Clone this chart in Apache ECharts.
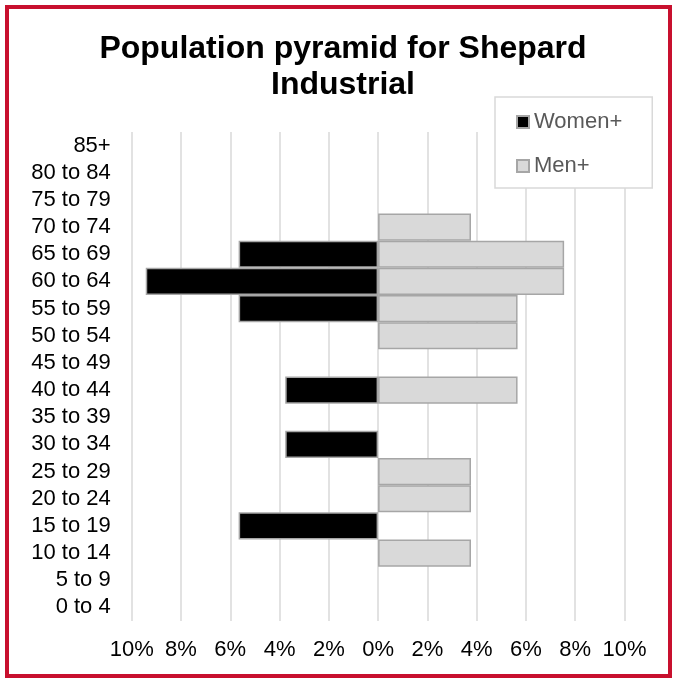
<!DOCTYPE html>
<html>
<head>
<meta charset="utf-8">
<script src="https://cdn.jsdelivr.net/npm/echarts@6/dist/echarts.min.js"></script>
<style>
html,body{margin:0;padding:0;background:#fff;}
#chart{width:673px;height:679px;}
</style>
</head>
<body>
<div id="chart"></div>
<script>
// Age groups, top to bottom
const categories = ["85+", "80 to 84", "75 to 79", "70 to 74", "65 to 69", "60 to 64", "55 to 59", "50 to 54", "45 to 49", "40 to 44", "35 to 39", "30 to 34", "25 to 29", "20 to 24", "15 to 19", "10 to 14", "5 to 9", "0 to 4"];
// Percent of population
const women = [0, 0, 0, 0, 5.66, 9.43, 5.66, 0, 0, 3.77, 0, 3.77, 0, 0, 5.66, 0, 0, 0];
const men   = [0, 0, 0, 3.77, 7.55, 7.55, 5.66, 5.66, 0, 5.66, 0, 0, 3.77, 3.77, 0, 3.77, 0, 0];
const xTicks = [-10, -8, -6, -4, -2, 0, 2, 4, 6, 8, 10];
const titleText = "Population pyramid for Shepard\nIndustrial";

const chart = echarts.init(document.getElementById('chart'));
const font = '"Liberation Sans", Arial, sans-serif';

chart.setOption({
  animation: false,
  backgroundColor: '#ffffff',
  textStyle: { fontFamily: font },
  graphic: [
    {
      type: 'rect', silent: true, z: 100,
      shape: { x: 7, y: 7, width: 663, height: 669 },
      style: { fill: 'none', stroke: '#c8102e', lineWidth: 4 }
    },
    {
      type: 'text', silent: true,
      x: 343, y: 31,
      style: {
        text: titleText, fontFamily: font, fontSize: 32, fontWeight: 'bold',
        fill: '#000', align: 'center', verticalAlign: 'top', lineHeight: 36
      }
    }
  ],
  legend: {
    orient: 'vertical',
    left: 495, top: 97,
    padding: [14, 30, 11, 21],
    itemGap: 22,
    itemWidth: 12, itemHeight: 12,
    borderColor: '#d9d9d9', borderWidth: 1.5,
    backgroundColor: '#fff',
    textStyle: { fontSize: 22, color: '#595959', fontFamily: font },
    data: [{ name: 'Women+', icon: 'rect' }, { name: 'Men+', icon: 'rect' }]
  },
  grid: { left: 131.7, right: 48.5, top: 132, bottom: 58 },
  xAxis: {
    type: 'value', min: xTicks[0], max: xTicks[xTicks.length - 1], interval: 2,
    axisLine: { show: false }, axisTick: { show: false },
    splitLine: { show: true, lineStyle: { color: '#d9d9d9', width: 1.5 } },
    axisLabel: {
      fontSize: 22, color: '#000', margin: 18, fontFamily: font,
      formatter: v => Math.abs(v) + '%'
    }
  },
  yAxis: {
    type: 'category', data: categories, inverse: true,
    axisLine: { show: false }, axisTick: { show: false },
    axisLabel: { fontSize: 22, color: '#000', margin: 21, fontFamily: font, interval: 0 }
  },
  series: [
    {
      name: 'Women+', type: 'bar', barWidth: '100%', barGap: '-100%',
      data: women.map(v => v === 0 ? null : -v),
      itemStyle: { color: '#000000', borderColor: '#a6a6a6', borderWidth: 1.5 },
      z: 3
    },
    {
      name: 'Men+', type: 'bar', barWidth: '100%', barGap: '-100%',
      data: men.map(v => v === 0 ? null : v),
      itemStyle: { color: '#d9d9d9', borderColor: '#a6a6a6', borderWidth: 1.5 },
      z: 2
    }
  ]
});
</script>
</body>
</html>
